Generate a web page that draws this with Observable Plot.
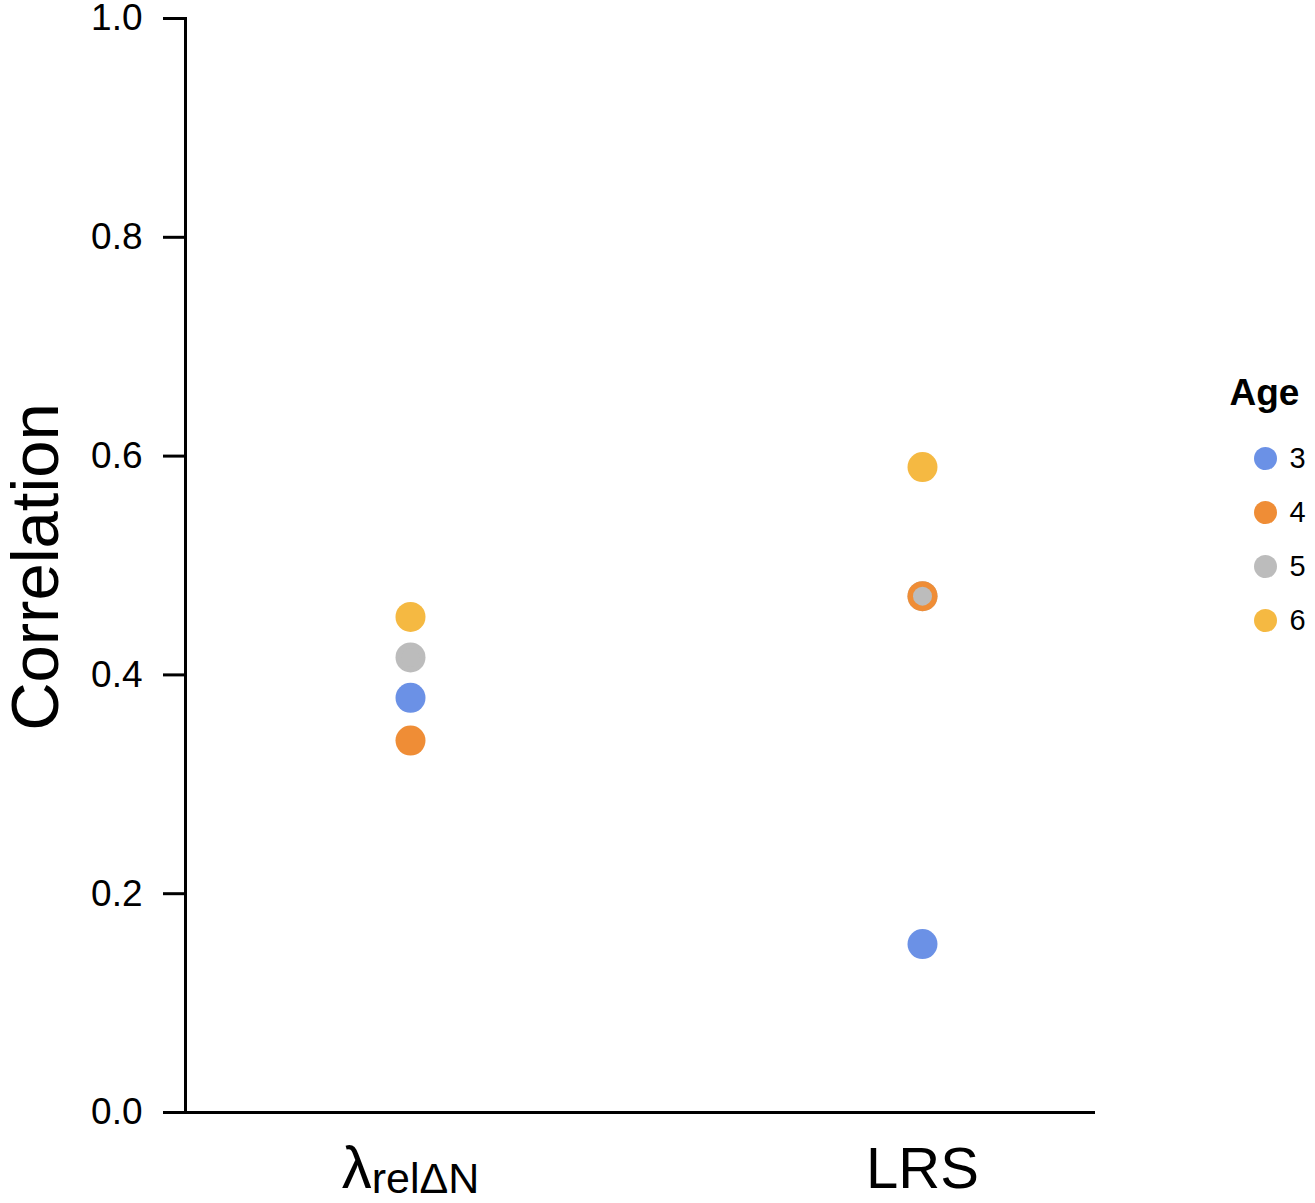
<!DOCTYPE html>
<html>
<head>
<meta charset="utf-8">
<script src="https://cdn.jsdelivr.net/npm/d3@7"></script>
<script src="https://cdn.jsdelivr.net/npm/@observablehq/plot@0.6"></script>
<style>
  html, body { margin: 0; padding: 0; background: #fff; }
  #wrap { position: relative; width: 1315px; height: 1203px; font-family: "Liberation Sans", Arial, sans-serif; }
  #legend { position: absolute; left: 1210px; top: 370px; }
  #chart { position: absolute; left: 0; top: 0; }
</style>
</head>
<body>
<div id="wrap"><div id="chart"></div><div id="legend"></div></div>
<script>
// ---- data ----
const categories = ["λrelΔN", "LRS"];
const ages = ["3", "4", "5", "6"];
const lambdaValues = [0.379, 0.340, 0.416, 0.453]; // ages 3,4,5,6
const lrsValues = [0.154, 0.472, 0.472, 0.590];    // ages 3,4,5,6
const ageColors = ["#6b91e6", "#ef8d36", "#bcbcbc", "#f5b942"];
const yTicks = [0, 0.2, 0.4, 0.6, 0.8, 1.0];
const yLabel = "Correlation";
const legendTitle = "Age";

const data = [];
ages.forEach((a, i) => {
  data.push({measure: categories[0], age: a, value: lambdaValues[i]});
  data.push({measure: categories[1], age: a, value: lrsValues[i]});
});
// draw order: 3, 5, 6, 4, so overlapping age 4 covers age 5 (which is then redrawn smaller)
const drawOrder = ["3", "5", "6", "4"];
data.sort((a, b) => drawOrder.indexOf(a.age) - drawOrder.indexOf(b.age));

const colorScale = {type: "ordinal", domain: ages, range: ageColors};

const chart = Plot.plot({
  width: 1315,
  height: 1203,
  marginLeft: 185,
  marginRight: 220,
  marginTop: 18,
  marginBottom: 91,
  style: {fontFamily: "Liberation Sans, Arial, sans-serif", background: "#fff", color: "#000", overflow: "visible"},
  x: {type: "point", domain: categories, range: [410, 922], padding: 0},
  y: {domain: [0, 1]},
  color: colorScale,
  marks: [
    Plot.axisY({ticks: yTicks, tickFormat: d3.format(".1f"), tickSize: 22, tickPadding: 21,
      fontSize: 37, strokeWidth: 3, label: null}),
    Plot.axisX({tickSize: 0, tickPadding: 34, fontSize: 58, label: null}),
    Plot.frame({anchor: "left", strokeWidth: 3, stroke: "#000"}),
    Plot.ruleY([0], {strokeWidth: 3, stroke: "#000"}),
    Plot.dot(data, {x: "measure", y: "value", fill: "age", r: 15}),
    Plot.dot(data.filter(d => d.age === "5"), {x: "measure", y: "value", fill: "age", r: 9.5})
  ]
});

// subscript for the lambda tick label
d3.select(chart).selectAll("text").each(function() {
  const t = d3.select(this);
  if (t.text() === categories[0]) {
    t.text(null);
    t.append("tspan").attr("font-size", 60).text("λ");
    t.append("tspan").attr("font-size", 43).attr("dy", 5).text("relΔN");
  }
});
// y axis title
d3.select(chart).append("text")
  .attr("transform", "translate(58,567) rotate(-90)")
  .attr("text-anchor", "middle")
  .attr("font-size", 67)
  .attr("fill", "#000")
  .text(yLabel);
document.getElementById("chart").appendChild(chart);

const legend = Plot.plot({
  width: 105,
  height: 270,
  margin: 0,
  style: {fontFamily: "Liberation Sans, Arial, sans-serif", background: "transparent", color: "#000"},
  x: {axis: null},
  y: {type: "point", domain: ages, range: [87, 250], padding: 0, axis: null},
  color: colorScale,
  marks: [
    Plot.text([legendTitle], {frameAnchor: "top-left", textAnchor: "start", lineAnchor: "top", dx: 19, dy: 8,
      fontSize: 37, fontWeight: "bold", fill: "#000"}),
    Plot.dot(ages, {y: d => d, fill: d => d, r: 11.5, frameAnchor: "left", dx: 55}),
    Plot.text(ages, {y: d => d, text: d => d, frameAnchor: "left", dx: 79, textAnchor: "start",
      fontSize: 29, fill: "#000"})
  ]
});
document.getElementById("legend").appendChild(legend);
</script>
</body>
</html>
